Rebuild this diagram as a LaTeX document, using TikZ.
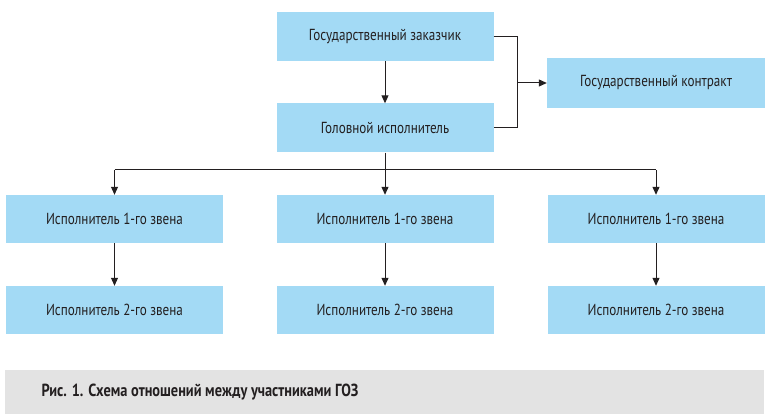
\documentclass[tikz,border=0pt]{standalone}
\usepackage{fontspec}
\setmainfont[FakeStretch=0.82]{PT Sans}
\usetikzlibrary{arrows.meta}
\definecolor{boxblue}{RGB}{163,218,245}
\definecolor{capgray}{RGB}{227,227,227}
\definecolor{ink}{RGB}{35,31,32}
\begin{document}
\begin{tikzpicture}[x=1pt,y=-1pt,
  box/.style={fill=boxblue,draw=none,minimum width=217pt,minimum height=49pt,inner sep=0pt,font=\fontsize{16}{18}\selectfont,text=ink},
  conn/.style={draw=ink,line width=1pt},
  arr/.style={conn,-{Triangle[length=8pt,width=7pt]}}]
\useasboundingbox (0,0) rectangle (774,414);
\fill[capgray] (5,370) rectangle (764,414);
\node[anchor=west,font=\bfseries\fontsize{17.5}{20}\selectfont,text=ink] (cap) at (38,392) {Рис. 1. Схема отношений между участниками ГОЗ};
\node[box] (zak) at (385,36.5) {Государственный заказчик};
\node[box] (gol) at (385,128) {Головной исполнитель};
\node[box,minimum width=218pt,minimum height=50pt] (kon) at (656,83) {Государственный контракт};
\node[box,minimum height=48pt] (a1) at (114.5,219) {Исполнитель 1-го звена};
\node[box,minimum height=48pt] (b1) at (385,219) {Исполнитель 1-го звена};
\node[box,minimum height=48pt] (c1) at (656,219) {Исполнитель 1-го звена};
\node[box,minimum height=48pt] (a2) at (114.5,310) {Исполнитель 2-го звена};
\node[box,minimum height=48pt] (b2) at (385,310) {Исполнитель 2-го звена};
\node[box,minimum height=48pt] (c2) at (656,310) {Исполнитель 2-го звена};
\coordinate (br) at (517,83);
\coordinate (hl) at (114.5,170);
\coordinate (hm) at (385,170);
\coordinate (hr) at (656,170);
\draw[conn] (zak.east |- 0,37) -- (517,37) -- (517,128) -- (gol.east |- 0,128);
\draw[arr] (br) -- (kon.west);
\draw[arr] (zak.south) -- (gol.north);
\draw[conn] (gol.south) -- (hm);
\draw[conn] (hl) -- (hr);
\draw[arr] (hl) -- (a1.north);
\draw[arr] (hm) -- (b1.north);
\draw[arr] (hr) -- (c1.north);
\draw[arr] (a1.south) -- (a2.north);
\draw[arr] (b1.south) -- (b2.north);
\draw[arr] (c1.south) -- (c2.north);
\end{tikzpicture}
\end{document}
